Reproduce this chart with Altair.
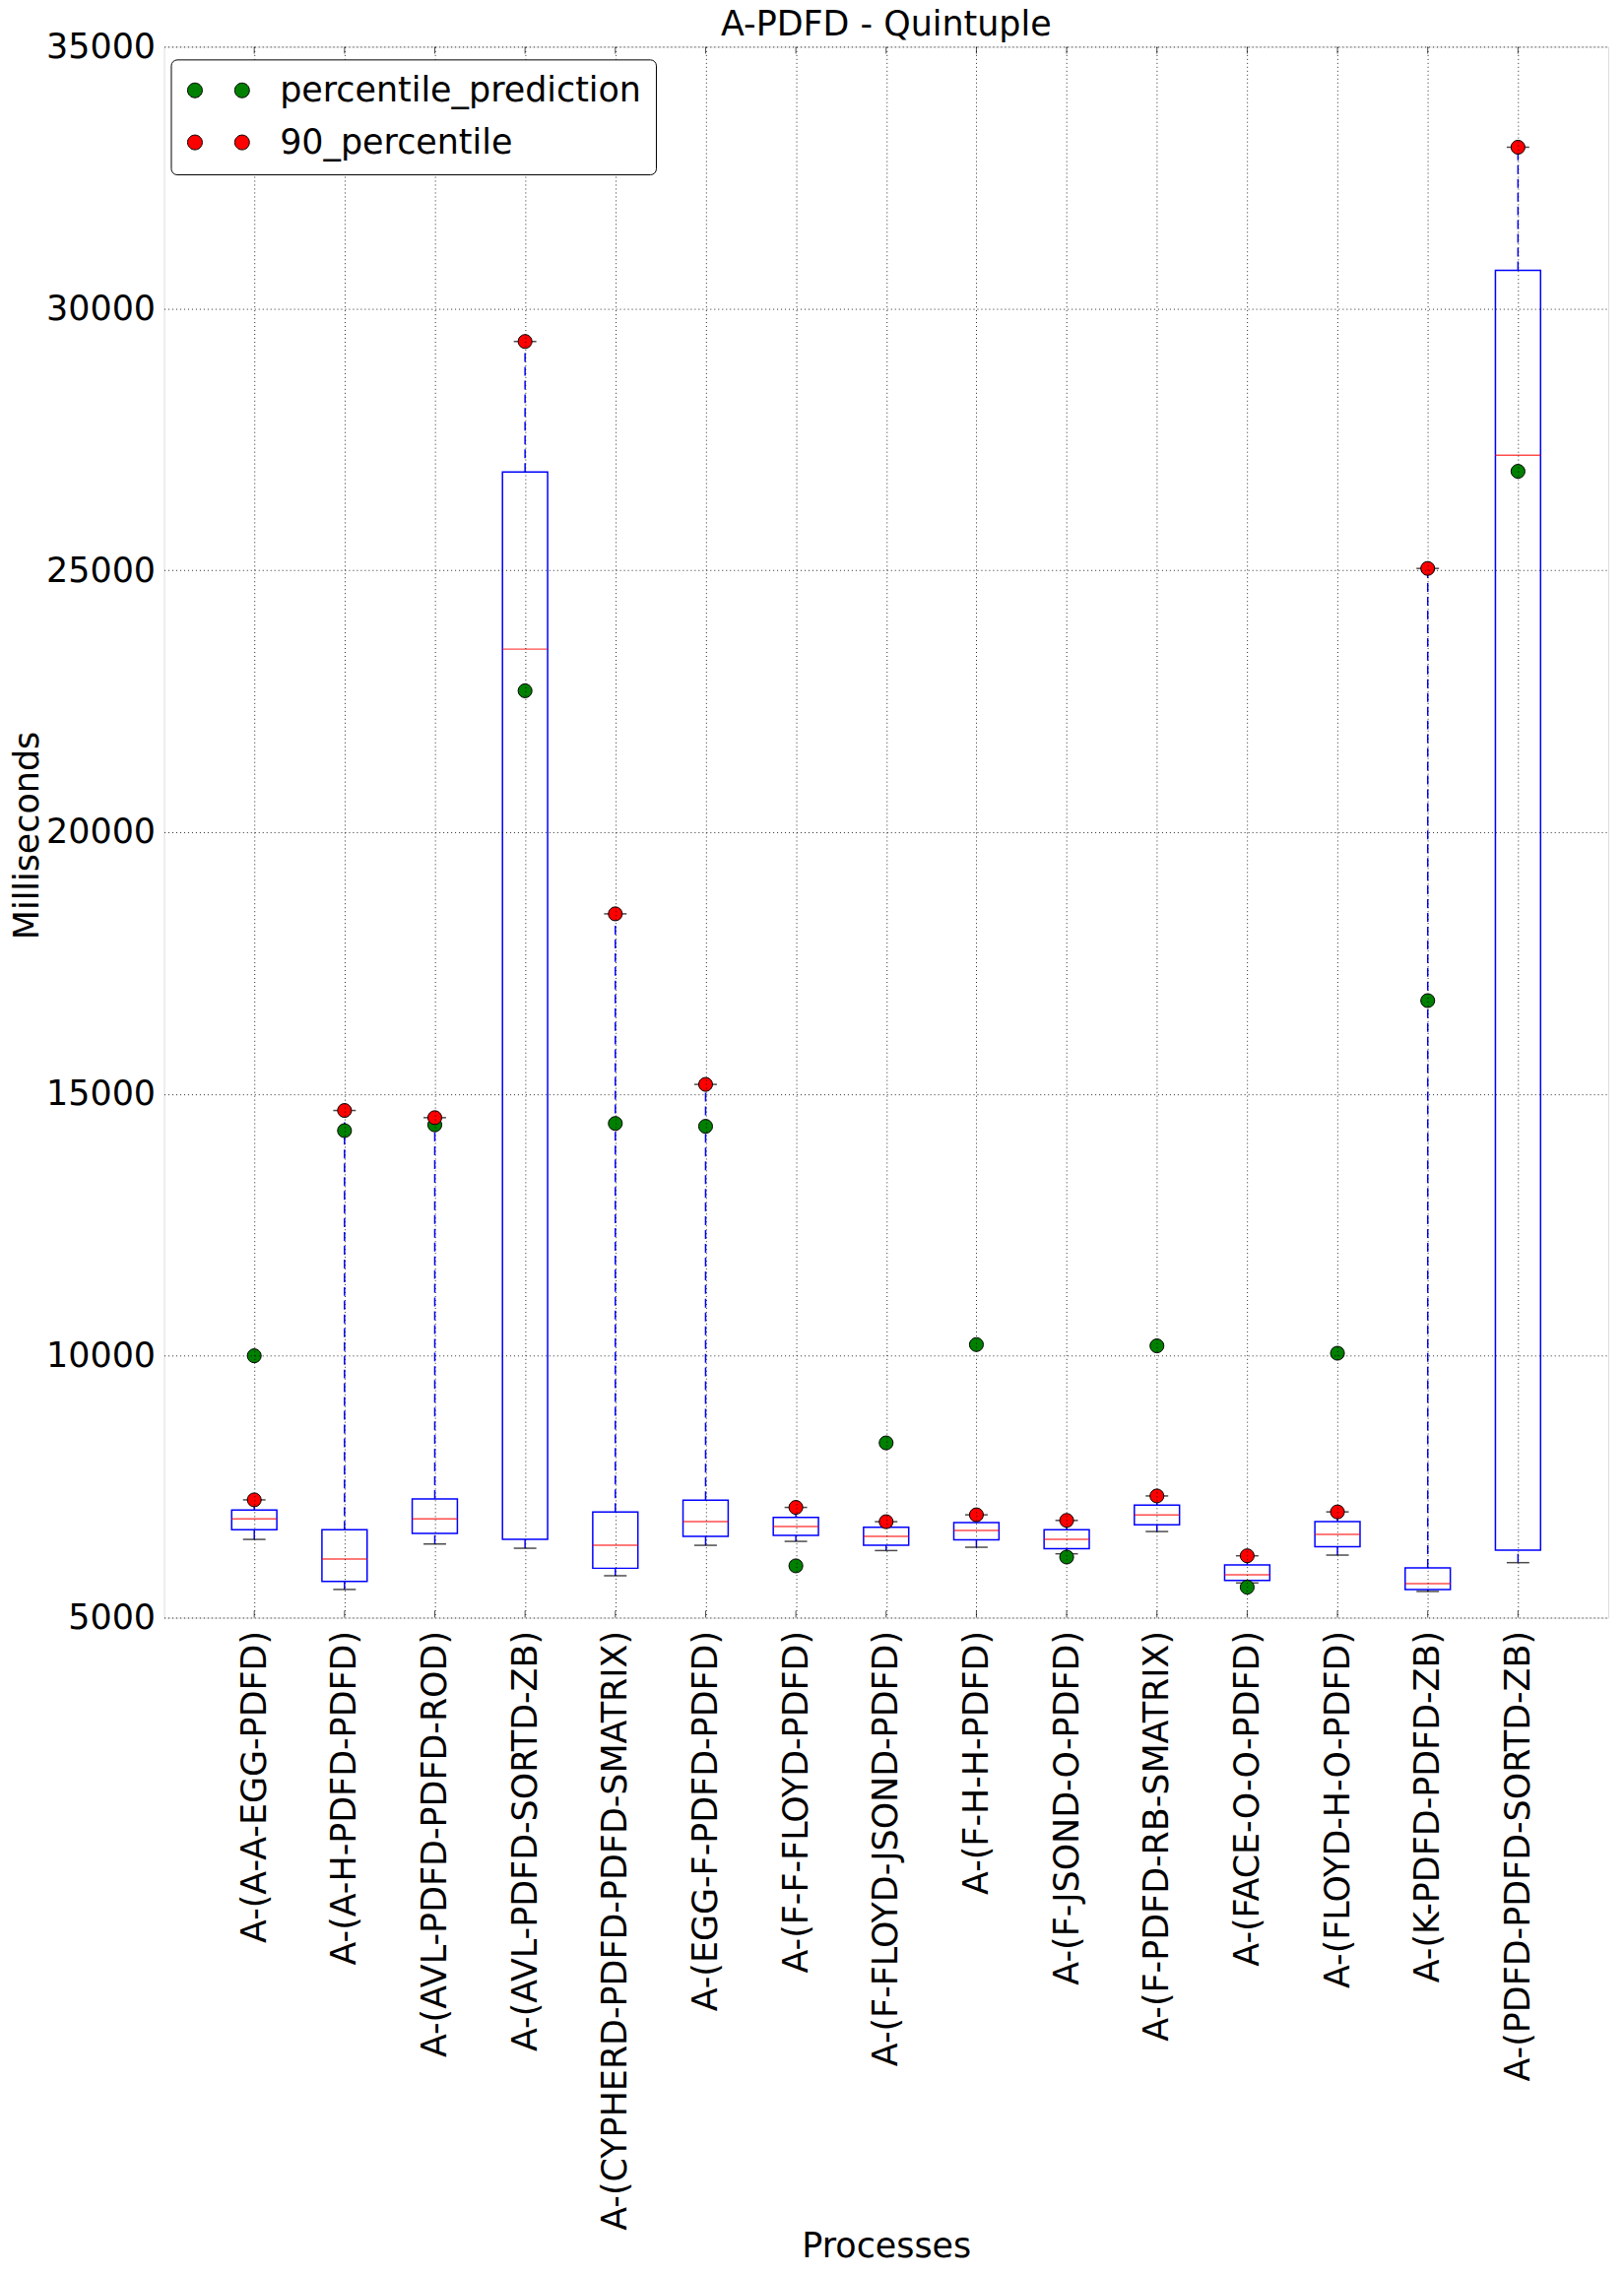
import altair as alt
import pandas as pd

categories = [
    "A-(A-A-EGG-PDFD)",
    "A-(A-H-PDFD-PDFD)",
    "A-(AVL-PDFD-PDFD-ROD)",
    "A-(AVL-PDFD-SORTD-ZB)",
    "A-(CYPHERD-PDFD-PDFD-SMATRIX)",
    "A-(EGG-F-PDFD-PDFD)",
    "A-(F-F-FLOYD-PDFD)",
    "A-(F-FLOYD-JSOND-PDFD)",
    "A-(F-H-H-PDFD)",
    "A-(F-JSOND-O-PDFD)",
    "A-(F-PDFD-RB-SMATRIX)",
    "A-(FACE-O-O-PDFD)",
    "A-(FLOYD-H-O-PDFD)",
    "A-(K-PDFD-PDFD-ZB)",
    "A-(PDFD-PDFD-SORTD-ZB)",
]
whisker_low = [6494, 5538, 6406, 6325, 5800, 6381, 6456, 6281, 6344, 6219, 6644, 5662, 6194, 5500, 6050]
q1 = [6681, 5693, 6607, 6494, 5943, 6550, 6569, 6381, 6487, 6319, 6775, 5712, 6356, 5538, 6288]
median = [6887, 6119, 6887, 23495, 6381, 6832, 6738, 6550, 6663, 6494, 6963, 5819, 6588, 5650, 27200]
q3 = [7056, 6681, 7268, 26880, 7019, 7244, 6912, 6724, 6813, 6681, 7150, 6007, 6832, 5950, 30730]
whisker_high = [7249, 14685, 14548, 29370, 18440, 15183, 7105, 6832, 6963, 6856, 7324, 6181, 7019, 25036, 33080]
percentile_90 = [7249, 14685, 14548, 29370, 18440, 15183, 7105, 6832, 6963, 6856, 7324, 6181, 7019, 25036, 33080]
percentile_prediction = [10000, 14300, 14410, 22700, 14437, 14382, 5989, 8337, 10214, 6157, 10190, 5581, 10049, 16783, 26890]

series_names = ["percentile_prediction", "90_percentile"]
series_colors = ["#008000", "#FF0000"]

FONT = "DejaVu Sans"
FS = 35
W, H = 1471, 1600

box_df = pd.DataFrame({
    "process": categories,
    "lo": whisker_low,
    "q1": q1,
    "med": median,
    "q3": q3,
    "hi": whisker_high,
    "ytop": [35000] * len(categories),
    "ybot": [5000] * len(categories),
})

pts_rows = []
for c, v in zip(categories, percentile_prediction):
    pts_rows.append({"process": c, "series": series_names[0], "value": v})
for c, v in zip(categories, percentile_90):
    pts_rows.append({"process": c, "series": series_names[1], "value": v})
pts_df = pd.DataFrame(pts_rows)

x_enc = alt.X(
    "process:N",
    sort=categories,
    scale=alt.Scale(type="point", padding=1),
    axis=alt.Axis(
        title="Processes",
        labelAngle=270,
        labelFontSize=FS,
        labelFont=FONT,
        labelColor="black",
        labelPadding=13,
        labelLimit=2000,
        ticks=False,
        domain=False,
        grid=True,
        gridColor="black",
        gridDash=[1, 3],
        gridWidth=1,
        gridOpacity=0.85,
        titleFontSize=FS,
        titleFont=FONT,
        titleFontWeight="normal",
        titleColor="black",
        titleBaseline="alphabetic",
        titleY=651,
        zindex=1,
    ),
)

y_scale = alt.Scale(domain=[5000, 35000], nice=False, zero=False)
y_axis = alt.Axis(
    title="Milliseconds",
    values=[5000, 10000, 15000, 20000, 25000, 30000, 35000],
    format="d",
    labelFontSize=FS,
    labelFont=FONT,
    labelColor="black",
    labelPadding=9,
    ticks=False,
    domain=False,
    grid=True,
    gridColor="black",
    gridDash=[1, 3],
    gridWidth=1,
    gridOpacity=0.85,
    titleFontSize=FS,
    titleFont=FONT,
    titleFontWeight="normal",
    titleColor="black",
    titleBaseline="middle",
    titleX=-139,
    titleY=803,
    zindex=1,
)

base = alt.Chart(box_df)

upper_whisker = base.mark_rule(color="#0000FF", strokeWidth=1.5, strokeDash=[9, 5]).encode(
    x=x_enc,
    y=alt.Y("q3:Q", scale=y_scale, axis=y_axis),
    y2="hi:Q",
)
lower_whisker = base.mark_rule(color="#0000FF", strokeWidth=1.5, strokeDash=[9, 5]).encode(
    x=alt.X("process:N", sort=categories),
    y=alt.Y("lo:Q"),
    y2="q1:Q",
)
box = base.mark_bar(size=46, fillOpacity=0, stroke="#0000FF", strokeWidth=1.5).encode(
    x=alt.X("process:N", sort=categories),
    y=alt.Y("q1:Q"),
    y2="q3:Q",
)
med = base.mark_tick(color="#FF0000", size=46, thickness=1.5, orient="horizontal").encode(
    x=alt.X("process:N", sort=categories),
    y=alt.Y("med:Q"),
)
cap_hi = base.mark_tick(color="black", size=23, thickness=1.5, orient="horizontal").encode(
    x=alt.X("process:N", sort=categories),
    y=alt.Y("hi:Q"),
)
cap_lo = base.mark_tick(color="black", size=23, thickness=1.5, orient="horizontal").encode(
    x=alt.X("process:N", sort=categories),
    y=alt.Y("lo:Q"),
)
# inward frame ticks (matplotlib classic style)
tick_top = base.mark_tick(color="black", size=7, thickness=1, orient="vertical", yOffset=3.5).encode(
    x=alt.X("process:N", sort=categories),
    y=alt.Y("ytop:Q"),
)
tick_bot = base.mark_tick(color="black", size=7, thickness=1, orient="vertical", yOffset=-3.5).encode(
    x=alt.X("process:N", sort=categories),
    y=alt.Y("ybot:Q"),
)

legend_symbol = (
    "M -1.93 0 A 1 1 0 1 0 0.07 0 A 1 1 0 1 0 -1.93 0 Z "
    "M 4.47 0 A 1 1 0 1 0 6.47 0 A 1 1 0 1 0 4.47 0 Z"
)

points = alt.Chart(pts_df).mark_point(
    filled=True, size=200, stroke="black", strokeWidth=1, opacity=1
).encode(
    x=alt.X("process:N", sort=categories),
    y=alt.Y("value:Q"),
    color=alt.Color(
        "series:N",
        scale=alt.Scale(domain=series_names, range=series_colors),
        legend=alt.Legend(
            title=None,
            orient="none",
            legendX=7,
            legendY=13,
            direction="vertical",
            fillColor="white",
            strokeColor="black",
            cornerRadius=6,
            padding=14,
            symbolType=legend_symbol,
            symbolSize=225,
            symbolStrokeColor="black",
            symbolStrokeWidth=1,
            symbolOpacity=1,
            labelFontSize=FS,
            labelFont=FONT,
            labelColor="black",
            labelOffset=62,
            labelLimit=1000,
            rowPadding=17,
            zindex=2,
        ),
    ),
    order=alt.Order("series_order:Q"),
).transform_calculate(
    series_order="datum.series === 'percentile_prediction' ? 0 : 1"
)

chart = alt.layer(
    upper_whisker, lower_whisker, box, med, cap_hi, cap_lo, tick_top, tick_bot, points
).properties(
    width=W,
    height=H,
    title=alt.TitleParams(
        text="A-PDFD - Quintuple",
        fontSize=FS,
        font=FONT,
        fontWeight="normal",
        color="black",
        anchor="middle",
        frame="group",
        baseline="alphabetic",
        offset=6,
        dy=47,
    ),
    autosize=alt.AutoSizeParams(type="none"),
    padding={"left": 159, "top": 36, "right": 8, "bottom": 662},
).configure_view(
    stroke="black", strokeWidth=1.5
).configure(
    background="white"
)

chart.save("out.html", embed_options={"renderer": "svg", "actions": False})
